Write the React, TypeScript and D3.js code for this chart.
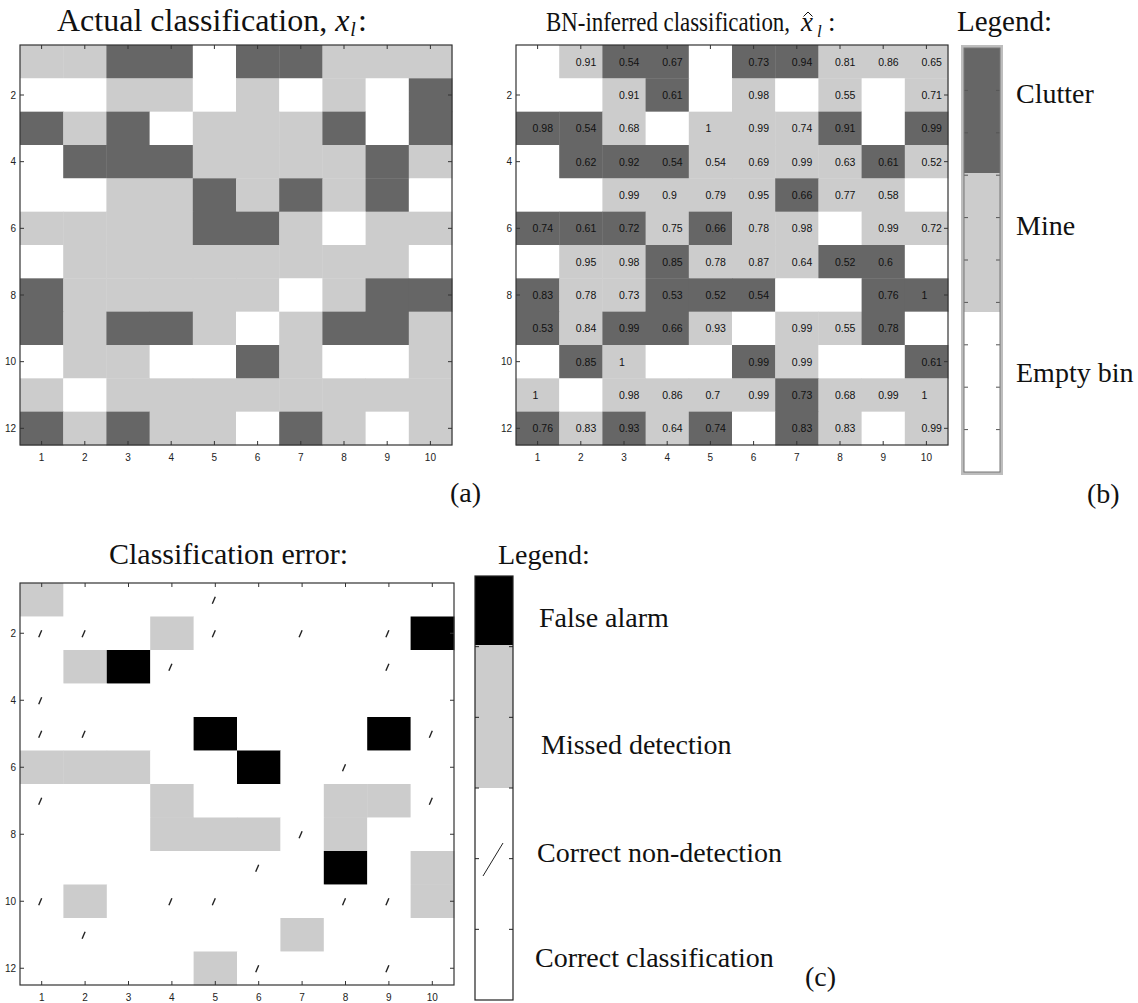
import * as d3 from "d3";

// 12 x 10 sonar bins. C = clutter, M = mine, E = empty bin
const colIds = d3.range(1, 11);
const rowIds = d3.range(1, 13);
const yTickRows = [2, 4, 6, 8, 10, 12];

const actualRows = [
  "MMCCECCMMM",
  "EEMMEMEMEC",
  "CMCEMMMCEC",
  "ECCCMMMMCM",
  "EEMMCMCMCE",
  "MMMMCCMEMM",
  "EMMMMMMMME",
  "CMMMMMEMCC",
  "CMCCMEMCCM",
  "EMMEECMEEM",
  "MEMMMMMMMM",
  "CMCMMECMEM",
];

const inferredRows = [
  "EMCCECCMMM",
  "EEMCEMEMEM",
  "CCMEMMMCEC",
  "ECCCMMMMCM",
  "EEMMMMCMME",
  "CCCMCMMEMM",
  "EMMCMMMCCE",
  "CMMCCCEECC",
  "CMCCMEMMCE",
  "ECMEECMEEC",
  "MEMMMMCMMM",
  "CMCMCECMEM",
];

const inferredProb: (number | null)[][] = [
  [null, 0.91, 0.54, 0.67, null, 0.73, 0.94, 0.81, 0.86, 0.65],
  [null, null, 0.91, 0.61, null, 0.98, null, 0.55, null, 0.71],
  [0.98, 0.54, 0.68, null, 1, 0.99, 0.74, 0.91, null, 0.99],
  [null, 0.62, 0.92, 0.54, 0.54, 0.69, 0.99, 0.63, 0.61, 0.52],
  [null, null, 0.99, 0.9, 0.79, 0.95, 0.66, 0.77, 0.58, null],
  [0.74, 0.61, 0.72, 0.75, 0.66, 0.78, 0.98, null, 0.99, 0.72],
  [null, 0.95, 0.98, 0.85, 0.78, 0.87, 0.64, 0.52, 0.6, null],
  [0.83, 0.78, 0.73, 0.53, 0.52, 0.54, null, null, 0.76, 1],
  [0.53, 0.84, 0.99, 0.66, 0.93, null, 0.99, 0.55, 0.78, null],
  [null, 0.85, 1, null, null, 0.99, 0.99, null, null, 0.61],
  [1, null, 0.98, 0.86, 0.7, 0.99, 0.73, 0.68, 0.99, 1],
  [0.76, 0.83, 0.93, 0.64, 0.74, null, 0.83, 0.83, null, 0.99],
];

// F = false alarm, D = missed detection, N = correct non-detection, . = correct classification
const errorRows = [
  "D...N.....",
  "NN.DN.N.NF",
  ".DFN....N.",
  "N.........",
  "NN..F...FN",
  "DDD..F.N..",
  "N..D...DDN",
  "...DDDND..",
  ".....N.F.D",
  "ND.NN..NND",
  ".N....D...",
  "....DN..N.",
];

const classKeys = ["C", "M", "E"];
const classLabels = ["Clutter", "Mine", "Empty bin"];
const errorKeys = ["F", "D", "N", "."];
const errorLabels = ["False alarm", "Missed detection", "Correct non-detection", "Correct classification"];

const classFill = d3.scaleOrdinal<string, string>().domain(classKeys).range(["#666666", "#cccccc", "#ffffff"]);
const errorFill = d3.scaleOrdinal<string, string>().domain(errorKeys).range(["#000000", "#cccccc", "#ffffff", "#ffffff"]);

const SERIF = "'Liberation Serif', 'Times New Roman', serif";
const SANS = "'Liberation Sans', Arial, Helvetica, sans-serif";

type Cell = { r: number; c: number; fill: string; label?: string; slash?: boolean };

function Grid({ left, top, width, height, cells }: { left: number; top: number; width: number; height: number; cells: Cell[] }) {
  const x = d3.scaleBand<number>().domain(colIds).range([0, width]);
  const y = d3.scaleBand<number>().domain(rowIds).range([0, height]);
  const bw = x.bandwidth();
  const bh = y.bandwidth();
  const tk = 4;
  return (
    <g transform={`translate(${left},${top})`}>
      {cells.map((d) => (
        <rect key={`r${d.r}-${d.c}`} x={x(d.c)!} y={y(d.r)!} width={bw + 0.4} height={bh + 0.4} fill={d.fill} />
      ))}
      {cells.filter((d) => d.label).map((d) => (
        <text key={`t${d.r}-${d.c}`} x={x(d.c)! + bw / 2 - 5} y={y(d.r)! + bh / 2} dominantBaseline="central" fontSize="10.5" fontFamily={SANS} fill="#111">{d.label}</text>
      ))}
      {cells.filter((d) => d.slash).map((d) => {
        const cx = x(d.c)! + bw / 2 - 1.5;
        const cy = y(d.r)! + bh / 2 + 0.5;
        return <line key={`s${d.r}-${d.c}`} x1={cx - 1.5} y1={cy + 3.5} x2={cx + 1.5} y2={cy - 3.5} stroke="#222" strokeWidth={1.4} />;
      })}
      {colIds.map((c) => {
        const cx = x(c)! + bw / 2;
        return (
          <g key={`xt${c}`}>
            <line x1={cx} x2={cx} y1={0} y2={tk} stroke="#333" />
            <line x1={cx} x2={cx} y1={height} y2={height - tk} stroke="#333" />
            <text x={cx} y={height + 12} textAnchor="middle" dominantBaseline="central" fontSize="10" fontFamily={SANS} fill="#222">{c}</text>
          </g>
        );
      })}
      {yTickRows.map((r) => {
        const cy = y(r)! + bh / 2;
        return (
          <g key={`yt${r}`}>
            <line x1={0} x2={tk} y1={cy} y2={cy} stroke="#333" />
            <line x1={width} x2={width - tk} y1={cy} y2={cy} stroke="#333" />
            <text x={-4} y={cy} textAnchor="end" dominantBaseline="central" fontSize="10" fontFamily={SANS} fill="#222">{r}</text>
          </g>
        );
      })}
      <rect x={0} y={0} width={width} height={height} fill="none" stroke="#333" strokeWidth={1.2} />
    </g>
  );
}

export default function App() {
  const actualCells: Cell[] = actualRows.flatMap((row, i) =>
    row.split("").map((k, j) => ({ r: i + 1, c: j + 1, fill: classFill(k) })));
  const inferredCells: Cell[] = inferredRows.flatMap((row, i) =>
    row.split("").map((k, j) => {
      const p = inferredProb[i][j];
      return { r: i + 1, c: j + 1, fill: classFill(k), label: p == null ? undefined : String(p) };
    }));
  const errorCells: Cell[] = errorRows.flatMap((row, i) =>
    row.split("").map((k, j) => ({ r: i + 1, c: j + 1, fill: errorFill(k), slash: k === "N" })));

  // legend (b): colour bar split Clutter / Mine / Empty bin
  const legB = { x: 964, y: 48, w: 36, h: 424 };
  const legBStops = [48, 173, 312, 472];
  const legBTicks = d3.range(1, 10).map((k) => legB.y + (k * legB.h) / 10);
  const legBLabelY = [103, 235, 382];

  // legend (c)
  const legC = { x: 475, y: 576, w: 38, h: 424 };
  const legCStops = [576, 645, 788, 1000];
  const legCTicks = d3.range(1, 6).map((k) => legC.y + (k * legC.h) / 6);
  const legCLabel = [
    { x: 539, y: 627 },
    { x: 541, y: 754 },
    { x: 537, y: 862 },
    { x: 535, y: 967 },
  ];

  const big = { fontFamily: SERIF, fontSize: 28, fill: "#111" };
  const hatX = 801; // x-hat of the (b) title

  return (
    <svg width={1138} height={1003} style={{ position: "absolute", left: 0, top: 0, background: "#fff" }}>
      <rect width={1138} height={1003} fill="#fff" />

      {/* (a) */}
      <text x={57} y={31} {...big} fontSize={32}>
        Actual classification, <tspan fontStyle="italic">x</tspan>
        <tspan fontStyle="italic" fontSize={20} dx={1} dy={5}>l</tspan>
        <tspan dx={2} dy={-5}>:</tspan>
      </text>
      <Grid left={20} top={45} width={432} height={400} cells={actualCells} />
      <text x={450} y={502} {...big}>(a)</text>

      {/* (b) */}
      <text x={546} y={31} {...big} fontSize={27} textLength={244} lengthAdjust="spacingAndGlyphs">BN-inferred classification,</text>
      <text x={hatX} y={31} {...big} fontSize={27} fontStyle="italic">x</text>
      <text x={hatX + 16} y={37} {...big} fontSize={17} fontStyle="italic">l</text>
      <text x={hatX + 27} y={31} {...big} fontSize={27}>:</text>
      <path d={`M${hatX + 2.5},${16.5} L${hatX + 7},${12} L${hatX + 11.5},${16.5}`} fill="none" stroke="#111" strokeWidth={1} />
      <Grid left={516} top={45} width={432} height={400} cells={inferredCells} />

      <text x={957} y={31} {...big} fontSize={29}>Legend:</text>
      <rect x={legB.x - 1.5} y={legB.y - 1.5} width={legB.w + 3} height={legB.h + 3} fill="none" stroke="#bdbdbd" strokeWidth={3} />
      {classKeys.map((k, i) => (
        <rect key={k} x={legB.x} y={legBStops[i]} width={legB.w} height={legBStops[i + 1] - legBStops[i]} fill={classFill(k)} />
      ))}
      {legBTicks.map((t) => (
        <g key={`lb${t}`}>
          <line x1={legB.x} x2={legB.x + 4} y1={t} y2={t} stroke="#555" />
          <line x1={legB.x + legB.w} x2={legB.x + legB.w - 4} y1={t} y2={t} stroke="#555" />
        </g>
      ))}
      <rect x={legB.x} y={legB.y} width={legB.w} height={legB.h} fill="none" stroke="#777" strokeWidth={1} />
      {classLabels.map((l, i) => (
        <text key={l} x={1016} y={legBLabelY[i]} {...big}>{l}</text>
      ))}
      <text x={1087} y={503} {...big}>(b)</text>

      {/* (c) */}
      <text x={109} y={564} {...big} fontSize={30}>Classification error:</text>
      <Grid left={20} top={583} width={434} height={402} cells={errorCells} />

      <text x={498} y={564} {...big}>Legend:</text>
      {errorKeys.map((k, i) => (
        i < 3 ? <rect key={k} x={legC.x} y={legCStops[i]} width={legC.w} height={legCStops[i + 1] - legCStops[i]} fill={errorFill(k)} /> : null
      ))}
      {legCTicks.map((t) => (
        <g key={`lc${t}`}>
          <line x1={legC.x} x2={legC.x + 4} y1={t} y2={t} stroke="#222" />
          <line x1={legC.x + legC.w} x2={legC.x + legC.w - 4} y1={t} y2={t} stroke="#222" />
        </g>
      ))}
      <line x1={483} y1={876} x2={503} y2={843} stroke="#222" strokeWidth={1} />
      <rect x={legC.x} y={legC.y} width={legC.w} height={legC.h} fill="none" stroke="#222" strokeWidth={1.2} />
      {errorLabels.map((l, i) => (
        <text key={l} x={legCLabel[i].x} y={legCLabel[i].y} {...big}>{l}</text>
      ))}
      <text x={805} y={986} {...big}>(c)</text>
    </svg>
  );
}
